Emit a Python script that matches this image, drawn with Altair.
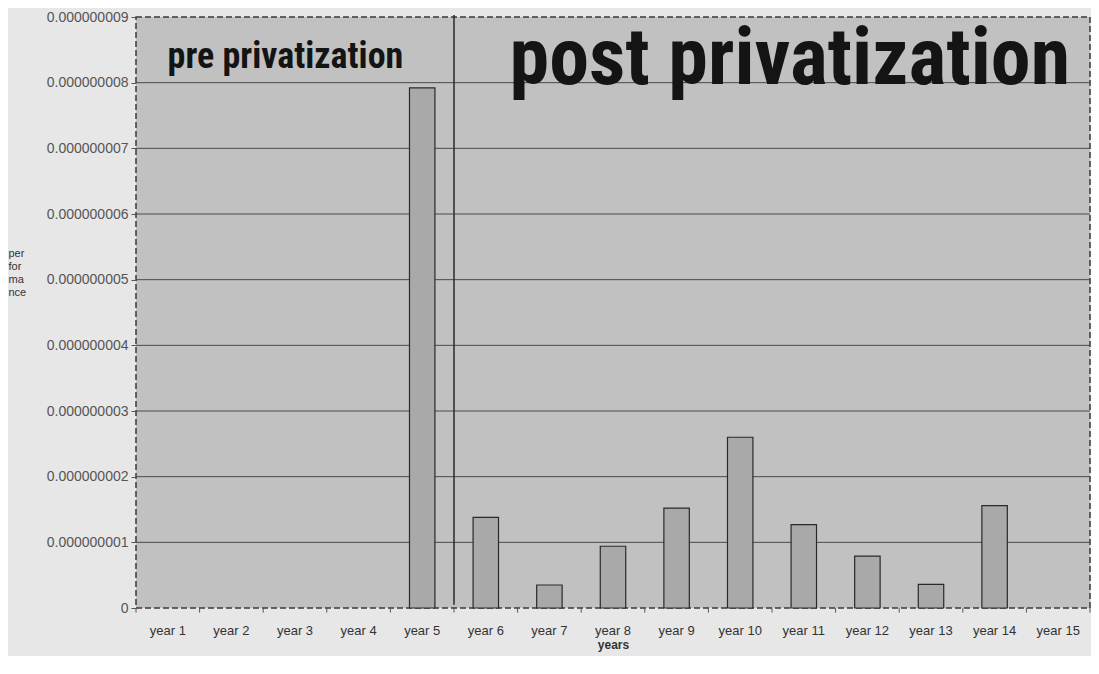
import altair as alt
import pandas as pd

years = ["year 1", "year 2", "year 3", "year 4", "year 5", "year 6", "year 7", "year 8",
         "year 9", "year 10", "year 11", "year 12", "year 13", "year 14", "year 15"]
performance = [0, 0, 0, 0, 7.92e-9, 1.38e-9, 0.35e-9, 0.94e-9, 1.52e-9, 2.60e-9,
               1.27e-9, 0.79e-9, 0.36e-9, 1.56e-9, 0]
tick_values = [0, 1e-9, 2e-9, 3e-9, 4e-9, 5e-9, 6e-9, 7e-9, 8e-9, 9e-9]
grid_values = [1e-9, 2e-9, 3e-9, 4e-9, 5e-9, 6e-9, 7e-9, 8e-9]
periods = ["pre privatization", "post privatization"]
axis_title = ["per", "for", "ma", "nce"]

df = pd.DataFrame({"year": years, "performance": performance})
grid_df = pd.DataFrame({"g": grid_values})
period_df = pd.DataFrame({"period": periods})
boundary_df = pd.DataFrame({"b": list(range(len(years) + 1))})

yscale = alt.Scale(domain=[0, 9e-9], nice=False)
qx = alt.Scale(domain=[0, len(years)], nice=False, zero=False)
NARROW = "Roboto Condensed, Liberation Sans Narrow, Liberation Sans, Arial, sans-serif"

grid = alt.Chart(grid_df).mark_rule(color="#4a4a4a", strokeWidth=1).encode(
    y=alt.Y("g:Q", scale=yscale)
)

bars = alt.Chart(df).transform_filter("datum.performance > 0").mark_bar(
    fill="#a9a9a9", stroke="#2a2a2a", strokeWidth=1.2
).encode(
    x=alt.X("year:N", sort=years,
            scale=alt.Scale(domain=years, paddingInner=0.6, paddingOuter=0.3),
            axis=alt.Axis(title="years", labelAngle=0, ticks=False, domain=False,
                          labelPadding=16, labelFontSize=13, labelColor="#333333",
                          titleFontWeight="bold", titleFontSize=12, titleColor="#333333",
                          titlePadding=2)),
    y=alt.Y("performance:Q", scale=yscale,
            axis=alt.Axis(values=tick_values,
                          labelExpr="datum.value == 0 ? '0' : format(datum.value, '.9f')",
                          grid=False, domain=False, tickSize=5, tickColor="#555555",
                          labelPadding=3, labelFontSize=14, labelColor="#555555",
                          title=axis_title, titleAngle=0, titleAlign="left",
                          titleBaseline="top", titleX=-128, titleY=230,
                          titleFontSize=11, titleFontWeight="normal",
                          titleColor="#333333", titleLineHeight=13))
)

xticks = alt.Chart(boundary_df).mark_rule(color="#555555", strokeWidth=1).encode(
    x=alt.X("b:Q", scale=qx, axis=None),
    y=alt.Y(datum=0, type="quantitative", scale=yscale),
    y2=alt.Y2(datum=-0.07e-9),
)

vline = alt.Chart(period_df).transform_filter(
    alt.datum.period == periods[0]
).mark_rule(color="#2a2a2a", strokeWidth=1.5).encode(
    x=alt.X(datum=5, type="quantitative", scale=qx, axis=None),
    y=alt.Y(datum=9.03e-9, type="quantitative", scale=yscale),
    y2=alt.Y2(datum=0.05e-9),
)

pre_text = alt.Chart(period_df).transform_filter(
    alt.datum.period == periods[0]
).mark_text(
    font=NARROW, fontWeight="bold", fontSize=36, baseline="alphabetic",
    align="center", color="#141414"
).encode(
    x=alt.X(datum=2.35, type="quantitative", scale=qx, axis=None),
    y=alt.Y(datum=8.22e-9, type="quantitative", scale=yscale),
    text="period:N",
)

post_text = alt.Chart(period_df).transform_filter(
    alt.datum.period == periods[1]
).mark_text(
    font=NARROW, fontWeight="bold", fontSize=80, baseline="alphabetic",
    align="center", color="#141414"
).encode(
    x=alt.X(datum=10.28, type="quantitative", scale=qx, axis=None),
    y=alt.Y(datum=7.98e-9, type="quantitative", scale=yscale),
    text="period:N",
)

annos = alt.layer(xticks, vline, pre_text, post_text)

chart = alt.layer(grid, bars, annos).resolve_scale(x="independent").properties(
    width=954, height=591,
    padding={"left": 0, "top": 2, "right": 0, "bottom": 6},
    background="#e7e7e7",
).configure_view(
    fill="#c1c1c1", stroke="#3a3a3a", strokeDash=[6, 3], strokeWidth=1.5
).configure_axis(
    labelFont="Liberation Sans", titleFont="Liberation Sans"
)

chart.save("out.html", embed_options={"renderer": "svg", "actions": False})
